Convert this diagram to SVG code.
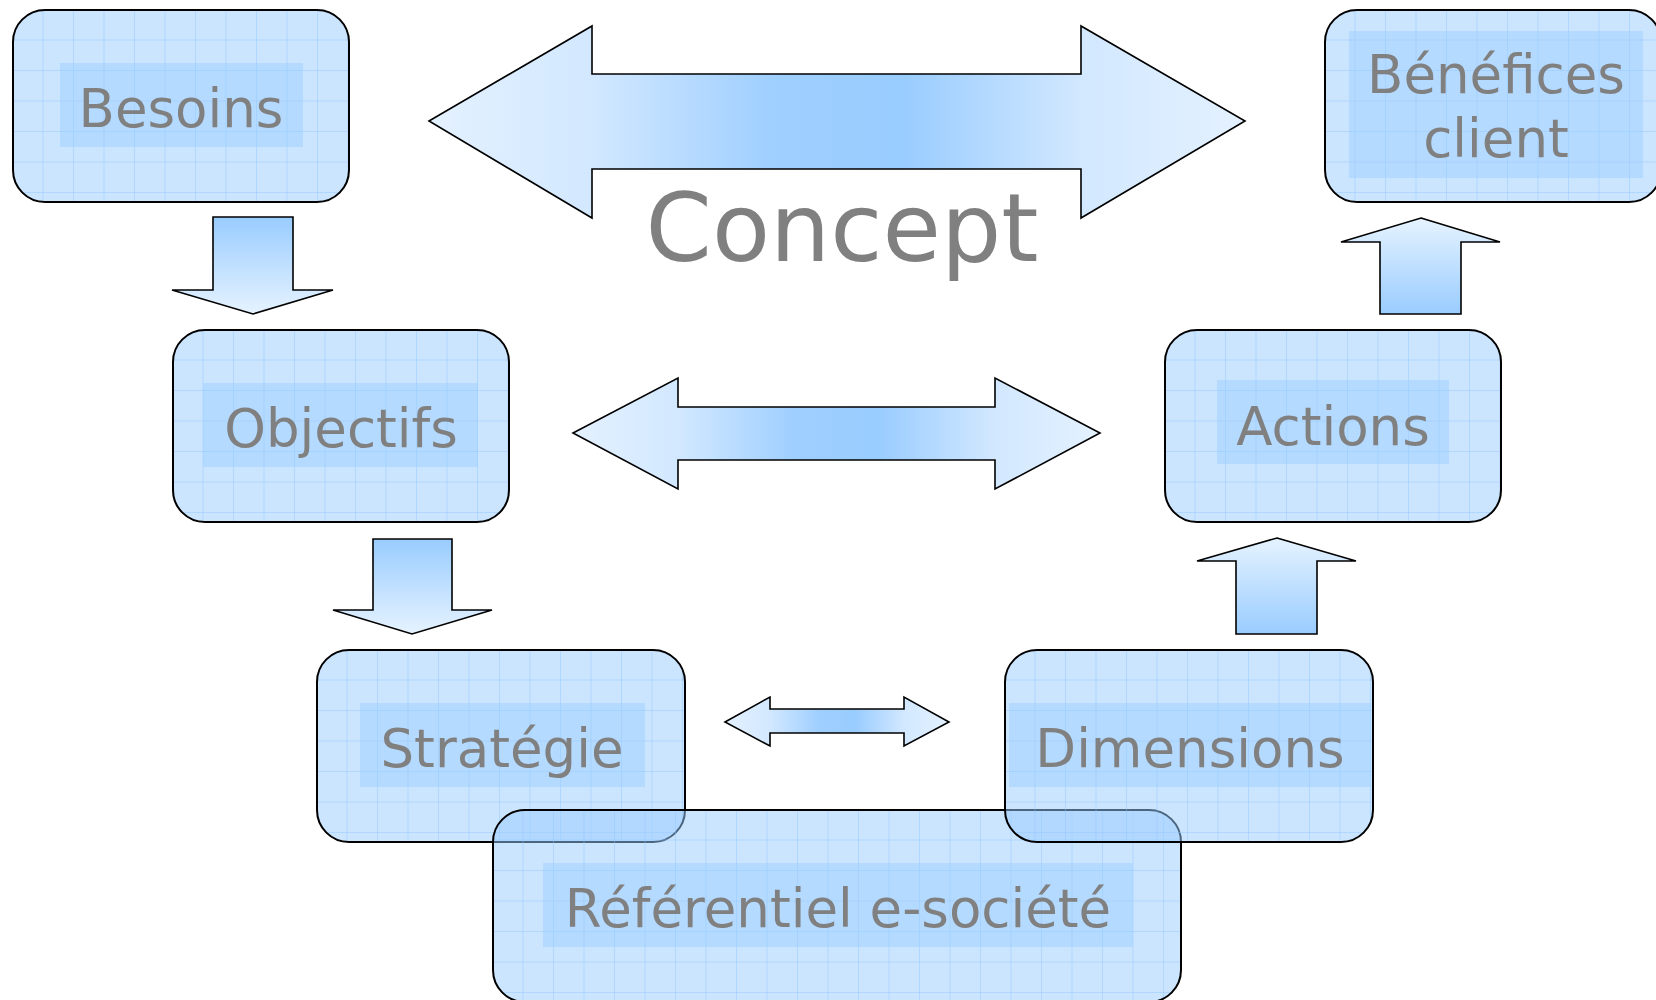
<svg xmlns="http://www.w3.org/2000/svg" width="1656" height="1000" viewBox="0 0 1656 1000">
<style>
.box{fill:#99ccff;fill-opacity:0.5;stroke:none}
.grid{fill:url(#grid)}
.border{fill:none;stroke:#000;stroke-width:2}
.hl{fill:#99ccff;fill-opacity:0.45}
.lbl{font-family:"DejaVu Sans","Verdana",sans-serif;font-size:53px;fill:#808080;text-anchor:middle}
.arr{stroke:#000;stroke-width:1.6;stroke-linejoin:miter}
</style>
<defs>
<pattern id="grid" patternUnits="userSpaceOnUse" width="30.5" height="30.5">
<path d="M30.5 0V30.5M0 30.5H30.5" fill="none" stroke="#8cc4ff" stroke-opacity="0.85" stroke-width="1"/>
</pattern>
<linearGradient id="gh" x1="0" y1="0" x2="1" y2="0">
<stop offset="0" stop-color="#e4f1ff"/>
<stop offset="0.2" stop-color="#d2e8ff"/>
<stop offset="0.42" stop-color="#9fcfff"/>
<stop offset="0.58" stop-color="#99ccff"/>
<stop offset="0.8" stop-color="#d2e8ff"/>
<stop offset="1" stop-color="#e4f1ff"/>
</linearGradient>
<linearGradient id="gdown" x1="0" y1="0" x2="0" y2="1">
<stop offset="0" stop-color="#99ccff"/>
<stop offset="1" stop-color="#e6f3ff"/>
</linearGradient>
<linearGradient id="gup" x1="0" y1="0" x2="0" y2="1">
<stop offset="0" stop-color="#e6f3ff"/>
<stop offset="1" stop-color="#99ccff"/>
</linearGradient>
</defs>
<rect width="1656" height="1000" fill="#fff"/>

<g id="connectors">
<polygon class="arr" fill="url(#gh)" points="429,121 592,26 592,74 1081,74 1081,26 1245,121 1081,218 1081,169 592,169 592,218"/>
<polygon class="arr" fill="url(#gh)" points="573,433 678,378 678,407 995,407 995,378 1100,433 995,489 995,460 678,460 678,489"/>
<polygon class="arr" fill="url(#gh)" points="725,722 770,697 770,709 904,709 904,697 949,722 904,746 904,733 770,733 770,746"/>
<polygon class="arr" fill="url(#gdown)" points="213,217 293,217 293,290 333,290 253,314 172,290 213,290"/>
<polygon class="arr" fill="url(#gdown)" points="373,539 452,539 452,610 492,610 412,634 333,610 373,610"/>
<polygon class="arr" fill="url(#gup)" points="1277,538 1356,561 1317,561 1317,634 1236,634 1236,561 1197,561"/>
<polygon class="arr" fill="url(#gup)" points="1421,218 1500,242 1461,242 1461,314 1380,314 1380,242 1341,242"/>
</g>

<text id="concept" x="842" y="261" font-family="DejaVu Sans, Verdana, sans-serif" font-size="95" fill="#808080" text-anchor="middle">Concept</text>

<g id="besoins" transform="translate(13,10)">
<rect class="box" width="336" height="192" rx="32"/>
<rect class="grid" width="336" height="192" rx="32"/>
<rect class="hl" x="47" y="53" width="243" height="84"/>
<text class="lbl" x="168" y="117">Besoins</text>
<rect class="border" width="336" height="192" rx="32"/>
</g>

<g id="benefices" transform="translate(1325,10)">
<rect class="box" width="336" height="192" rx="32"/>
<rect class="grid" width="336" height="192" rx="32"/>
<rect class="hl" x="24" y="21" width="294" height="147"/>
<text class="lbl" x="171" y="83" font-size="52">Bénéfices</text>
<text class="lbl" x="171" y="147" font-size="52">client</text>
<rect class="border" width="336" height="192" rx="32"/>
</g>

<g id="objectifs" transform="translate(173,330)">
<rect class="box" width="336" height="192" rx="32"/>
<rect class="grid" width="336" height="192" rx="32"/>
<rect class="hl" x="30" y="53" width="275" height="84"/>
<text class="lbl" x="168" y="117">Objectifs</text>
<rect class="border" width="336" height="192" rx="32"/>
</g>

<g id="actions" transform="translate(1165,330)">
<rect class="box" width="336" height="192" rx="32"/>
<rect class="grid" width="336" height="192" rx="32"/>
<rect class="hl" x="52" y="50" width="232" height="84"/>
<text class="lbl" x="168" y="115">Actions</text>
<rect class="border" width="336" height="192" rx="32"/>
</g>

<g id="strategie" transform="translate(317,650)">
<rect class="box" width="368" height="192" rx="32"/>
<rect class="grid" width="368" height="192" rx="32"/>
<rect class="hl" x="43" y="53" width="285" height="84"/>
<text class="lbl" x="185" y="117">Stratégie</text>
<rect class="border" width="368" height="192" rx="32"/>
</g>

<g id="referentiel" transform="translate(493,810)">
<rect class="box" width="688" height="192" rx="32"/>
<rect class="grid" width="688" height="192" rx="32"/>
<rect class="hl" x="50" y="53" width="590" height="84"/>
<text class="lbl" x="345" y="117">Référentiel e-société</text>
<rect class="border" width="688" height="192" rx="32"/>
</g>

<g id="dimensions" transform="translate(1005,650)">
<rect class="box" width="368" height="192" rx="32"/>
<rect class="grid" width="368" height="192" rx="32"/>
<rect class="hl" x="4" y="53" width="362" height="84"/>
<text class="lbl" x="185" y="117">Dimensions</text>
<rect class="border" width="368" height="192" rx="32"/>
</g>
</svg>
